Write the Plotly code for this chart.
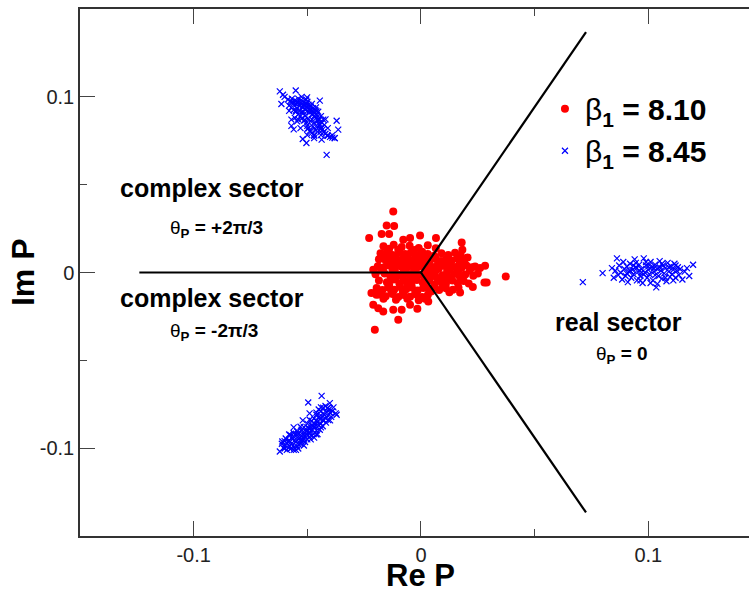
import plotly.graph_objects as go

# ---- data ----
red_points = [
    # core
    (-0.0165,0.0150),(-0.0120,0.0158),(-0.0085,0.0145),(-0.0050,0.0152),(-0.0010,0.0140),(0.0030,0.0155),
    (-0.0140,0.0135),(-0.0100,0.0130),(-0.0030,0.0128),(0.0065,0.0138),
    (-0.0178,0.0110),(-0.0150,0.0118),(-0.0125,0.0100),(-0.0095,0.0115),(-0.0070,0.0105),(-0.0045,0.0112),
    (-0.0020,0.0098),(0.0005,0.0118),(0.0030,0.0105),(0.0058,0.0095),(0.0090,0.0110),(0.0120,0.0100),
    (-0.0160,0.0092),(-0.0110,0.0088),(-0.0060,0.0092),(-0.0005,0.0090),(0.0150,0.0112),(0.0175,0.0098),
    (-0.0185,0.0075),(-0.0155,0.0068),(-0.0130,0.0080),(-0.0105,0.0070),(-0.0080,0.0078),(-0.0055,0.0065),
    (-0.0030,0.0075),(-0.0008,0.0062),(0.0015,0.0080),(0.0040,0.0070),(0.0065,0.0078),(0.0088,0.0065),
    (0.0110,0.0075),(0.0135,0.0068),(0.0160,0.0080),(0.0190,0.0065),(0.0205,0.0085),(-0.0140,0.0055),
    (-0.0090,0.0052),(-0.0040,0.0050),(0.0025,0.0055),(0.0075,0.0050),(0.0125,0.0052),(0.0170,0.0055),
    (-0.0190,0.0035),(-0.0165,0.0028),(-0.0140,0.0040),(-0.0115,0.0025),(-0.0090,0.0035),(-0.0068,0.0020),
    (-0.0045,0.0038),(-0.0020,0.0025),(0.0005,0.0035),(0.0030,0.0018),(0.0052,0.0032),(0.0078,0.0022),
    (0.0100,0.0038),(0.0125,0.0020),(0.0150,0.0032),(0.0178,0.0025),(0.0200,0.0040),(0.0225,0.0030),
    (-0.0175,0.0012),(-0.0125,0.0010),(-0.0075,0.0008),(-0.0030,0.0012),(0.0020,0.0005),(0.0065,0.0010),
    (0.0115,0.0008),(0.0165,0.0012),(0.0215,0.0010),
    (-0.0200,-0.0010),(-0.0160,-0.0005),(-0.0135,-0.0020),(-0.0105,-0.0008),(-0.0080,-0.0025),(-0.0055,-0.0010),
    (-0.0030,-0.0028),(-0.0005,-0.0012),(0.0022,-0.0022),(0.0045,-0.0005),(0.0070,-0.0030),(0.0095,-0.0015),
    (0.0120,-0.0028),(0.0145,-0.0008),(0.0170,-0.0022),(0.0195,-0.0012),(0.0230,-0.0018),(0.0250,-0.0005),
    (-0.0185,-0.0045),(-0.0150,-0.0055),(-0.0120,-0.0040),(-0.0095,-0.0062),(-0.0070,-0.0048),(-0.0042,-0.0065),
    (-0.0018,-0.0042),(0.0008,-0.0058),(0.0035,-0.0045),(0.0060,-0.0068),(0.0085,-0.0050),(0.0110,-0.0062),
    (0.0138,-0.0045),(0.0162,-0.0060),(0.0188,-0.0048),(0.0210,-0.0062),(-0.0140,-0.0070),(-0.0060,-0.0072),
    (0.0020,-0.0070),(0.0095,-0.0075),
    (-0.0195,-0.0088),(-0.0170,-0.0100),(-0.0145,-0.0085),(-0.0118,-0.0098),(-0.0092,-0.0082),(-0.0065,-0.0095),
    (-0.0040,-0.0085),(-0.0015,-0.0102),(0.0010,-0.0088),(0.0035,-0.0098),(0.0058,-0.0085),(0.0080,-0.0100),
    (0.0110,-0.0090),(0.0140,-0.0098),(0.0165,-0.0085),(-0.0130,-0.0108),(-0.0080,-0.0110),(-0.0025,-0.0112),
    (0.0045,-0.0108),
    (-0.0185,-0.0125),(-0.0155,-0.0135),(-0.0125,-0.0122),(-0.0100,-0.0140),(-0.0075,-0.0128),(-0.0048,-0.0138),
    (-0.0020,-0.0125),(0.0005,-0.0140),(0.0030,-0.0128),(-0.0165,-0.0150),(-0.0110,-0.0155),(-0.0060,-0.0150),
    (-0.0010,-0.0158),(0.0018,-0.0150),
    (-0.0060,0.0030),(-0.0035,-0.0005),(0.0012,0.0048),(0.0040,-0.0032),(-0.0100,0.0045),(-0.0025,0.0060),
    (0.0080,0.0040),(0.0055,0.0015),(-0.0045,-0.0050),(0.0015,-0.0035),(-0.0110,-0.0030),(0.0105,-0.0040),
    (-0.0070,0.0060),(0.0030,0.0090),(-0.0150,0.0100),(-0.0120,0.0060),
    # outliers
    (-0.0122,0.0347),(-0.0151,0.0268),(-0.0118,0.0264),(-0.0228,0.0196),(-0.0173,0.0219),(-0.0140,0.0219),
    (0.0066,0.0196),(-0.0004,0.0211),(-0.0048,0.0196),(-0.0078,0.0186),(0.0179,0.0171),(0.0182,0.0129),
    (0.0373,-0.0023),(0.0282,0.0038),(0.0260,0.0025),(0.0279,-0.0057),(0.0289,-0.0057),(0.0228,-0.0083),
    (0.0172,-0.0114),(0.0125,-0.0112),(-0.0203,-0.0326),(-0.0100,-0.0269),(-0.0016,-0.0207),
    (-0.0210,-0.0184),(-0.0188,-0.0203),(-0.0166,-0.0222),(-0.0122,-0.0212),(-0.0085,-0.0212),
    (-0.0218,-0.0117),(-0.0196,-0.0127),(-0.0181,-0.0108),(-0.0048,-0.0184),(0.0032,-0.0165),
    (0.0238,0.0034),(-0.0210,0.0015),
]

blue_points_upper = [
    (-0.0600,0.1000),(-0.0585,0.0985),(-0.0575,0.0975),(-0.0568,0.0990),(-0.0560,0.0965),(-0.0555,0.0980),
    (-0.0548,0.0958),(-0.0545,0.0972),(-0.0540,0.0990),(-0.0535,0.0950),(-0.0530,0.0965),(-0.0528,0.0980),
    (-0.0522,0.0940),(-0.0518,0.0955),(-0.0515,0.0970),(-0.0510,0.0930),(-0.0508,0.0948),(-0.0505,0.0962),
    (-0.0500,0.0920),(-0.0498,0.0938),(-0.0495,0.0955),(-0.0490,0.0910),(-0.0488,0.0928),(-0.0485,0.0945),
    (-0.0480,0.0900),(-0.0478,0.0918),(-0.0475,0.0935),(-0.0470,0.0890),(-0.0468,0.0908),(-0.0465,0.0925),
    (-0.0460,0.0880),(-0.0458,0.0898),(-0.0455,0.0865),(-0.0450,0.0850),(-0.0448,0.0875),(-0.0445,0.0838),
    (-0.0440,0.0825),(-0.0438,0.0855),(-0.0432,0.0815),(-0.0428,0.0800),(-0.0420,0.0790),(-0.0412,0.0780),
    (-0.0400,0.0772),(-0.0390,0.0768),(-0.0380,0.0765),
    (-0.0580,0.0950),(-0.0570,0.0940),(-0.0560,0.0925),(-0.0550,0.0915),(-0.0540,0.0900),(-0.0530,0.0890),
    (-0.0525,0.0875),(-0.0515,0.0865),(-0.0505,0.0850),(-0.0500,0.0835),(-0.0495,0.0820),(-0.0490,0.0805),
    (-0.0480,0.0795),(-0.0470,0.0785),(-0.0462,0.0810),(-0.0475,0.0830),(-0.0485,0.0860),(-0.0520,0.0910),
    (-0.0545,0.0935),(-0.0535,0.0920),(-0.0510,0.0890),(-0.0495,0.0875),(-0.0470,0.0850),(-0.0455,0.0830),
    (-0.0442,0.0800),(-0.0525,0.1000),(-0.0505,0.0985),(-0.0480,0.0960),(-0.0462,0.0940),(-0.0452,0.0915),
    (-0.0440,0.0890),(-0.0430,0.0870),(-0.0425,0.0840),
    (-0.0570,0.0835),(-0.0560,0.0815),(-0.0545,0.0860),(-0.0555,0.0880),
    (-0.0570,0.0970),(-0.0540,0.0968),(-0.0500,0.0972),
    (-0.0580,0.0920),(-0.0550,0.0922),(-0.0520,0.0918),(-0.0490,0.0922),(-0.0460,0.0918),
    (-0.0570,0.0870),(-0.0540,0.0872),(-0.0510,0.0868),(-0.0480,0.0872),(-0.0450,0.0868),(-0.0420,0.0872),
    (-0.0530,0.0822),(-0.0500,0.0818),(-0.0470,0.0822),(-0.0440,0.0818),(-0.0410,0.0822),
    (-0.0500,0.0782),(-0.0470,0.0778),(-0.0440,0.0782),(-0.0410,0.0778),(-0.0390,0.0782),
    (-0.0621,0.1031),(-0.0607,0.1012),(-0.0614,0.0959),(-0.0551,0.1036),(-0.0501,0.0997),(-0.0445,0.0978),
    (-0.0371,0.0864),(-0.0364,0.0813),(-0.0415,0.0670),(-0.0437,0.0756),(-0.0504,0.0737),(-0.0379,0.0765),
    (-0.0520,0.0760),(-0.0470,0.0765),
]

blue_points_lower = [
    (-0.0621,-0.1019),(-0.0605,-0.1000),(-0.0598,-0.0985),(-0.0590,-0.0970),(-0.0595,-0.0945),(-0.0580,-0.0955),
    (-0.0578,-0.0990),(-0.0570,-0.0975),(-0.0565,-0.0950),(-0.0560,-0.0935),(-0.0558,-0.0995),(-0.0550,-0.0965),
    (-0.0545,-0.0940),(-0.0540,-0.0920),(-0.0538,-0.0980),(-0.0530,-0.0955),(-0.0525,-0.0930),(-0.0520,-0.0910),
    (-0.0515,-0.0945),(-0.0510,-0.0965),(-0.0505,-0.0920),(-0.0500,-0.0900),(-0.0495,-0.0885),(-0.0490,-0.0935),
    (-0.0488,-0.0910),(-0.0482,-0.0870),(-0.0478,-0.0895),(-0.0472,-0.0920),(-0.0468,-0.0860),(-0.0465,-0.0880),
    (-0.0460,-0.0900),(-0.0455,-0.0850),(-0.0450,-0.0870),(-0.0445,-0.0835),(-0.0440,-0.0860),(-0.0435,-0.0820),
    (-0.0430,-0.0845),(-0.0425,-0.0810),(-0.0420,-0.0830),(-0.0415,-0.0795),(-0.0410,-0.0815),(-0.0405,-0.0780),
    (-0.0400,-0.0800),(-0.0395,-0.0822),(-0.0390,-0.0790),(-0.0371,-0.0810),(-0.0437,-0.0702),(-0.0496,-0.0740),
    (-0.0401,-0.0744),(-0.0420,-0.0760),(-0.0450,-0.0780),(-0.0460,-0.0810),(-0.0470,-0.0830),(-0.0480,-0.0845),
    (-0.0500,-0.0860),(-0.0515,-0.0880),(-0.0525,-0.0895),(-0.0545,-0.0905),(-0.0560,-0.0915),(-0.0575,-0.0925),
    (-0.0590,-0.1010),(-0.0575,-0.1005),(-0.0560,-0.1010),(-0.0545,-0.0990),(-0.0530,-0.0975),(-0.0515,-0.0985),
    (-0.0500,-0.0950),(-0.0485,-0.0950),(-0.0470,-0.0940),(-0.0455,-0.0920),(-0.0445,-0.0895),(-0.0432,-0.0875),
    (-0.0418,-0.0855),(-0.0408,-0.0840),(-0.0440,-0.0790),(-0.0430,-0.0770),(-0.0412,-0.0772),(-0.0520,-0.0950),
    (-0.0535,-0.0940),(-0.0505,-0.0905),(-0.0490,-0.0890),(-0.0475,-0.0875),(-0.0462,-0.0845),(-0.0448,-0.0820),
    (-0.0510,-0.0930),(-0.0585,-0.0965),(-0.0600,-0.0960),(-0.0612,-0.0975),(-0.0550,-0.1010),
    (-0.0600,-0.1002),(-0.0570,-0.0998),(-0.0540,-0.1002),
    (-0.0610,-0.0962),(-0.0580,-0.0958),(-0.0550,-0.0962),(-0.0520,-0.0958),
    (-0.0580,-0.0922),(-0.0550,-0.0918),(-0.0520,-0.0922),(-0.0490,-0.0918),(-0.0460,-0.0922),
    (-0.0560,-0.0882),(-0.0530,-0.0878),(-0.0500,-0.0882),(-0.0470,-0.0878),(-0.0440,-0.0882),
    (-0.0520,-0.0842),(-0.0490,-0.0838),(-0.0460,-0.0842),(-0.0430,-0.0838),(-0.0400,-0.0842),
    (-0.0490,-0.0802),(-0.0460,-0.0798),(-0.0430,-0.0802),(-0.0400,-0.0798),(-0.0375,-0.0802),
    (-0.0440,-0.0768),(-0.0410,-0.0772),(-0.0385,-0.0768),
]

blue_points_real = [
    (0.0712,-0.0055),(0.0799,-0.0004),(0.0840,0.0025),(0.0848,-0.0030),(0.0855,0.0010),(0.0862,0.0080),
    (0.0868,-0.0015),(0.0872,0.0040),(0.0878,0.0000),(0.0885,-0.0040),(0.0890,0.0060),(0.0895,0.0020),
    (0.0900,-0.0020),(0.0905,0.0035),(0.0910,-0.0055),(0.0915,0.0005),(0.0920,0.0050),(0.0925,-0.0030),
    (0.0930,0.0015),(0.0935,-0.0010),(0.0940,0.0075),(0.0945,0.0030),(0.0950,-0.0045),(0.0955,0.0005),
    (0.0960,0.0045),(0.0965,-0.0020),(0.0970,0.0020),(0.0975,-0.0060),(0.0980,0.0080),(0.0985,0.0000),
    (0.0990,0.0040),(0.0995,-0.0030),(0.1000,0.0015),(0.1005,-0.0010),(0.1010,0.0060),(0.1015,0.0030),
    (0.1020,-0.0045),(0.1025,0.0005),(0.1030,0.0045),(0.1035,-0.0085),(0.1040,0.0020),(0.1045,-0.0020),
    (0.1050,0.0065),(0.1055,0.0010),(0.1060,-0.0035),(0.1065,0.0040),(0.1070,-0.0005),(0.1075,0.0025),
    (0.1080,-0.0050),(0.1085,0.0055),(0.1090,0.0005),(0.1095,-0.0025),(0.1100,0.0035),(0.1105,-0.0010),
    (0.1110,0.0015),(0.1115,0.0050),(0.1120,-0.0030),(0.1125,0.0010),(0.1130,0.0030),(0.1135,-0.0015),
    (0.1140,0.0020),(0.1150,-0.0040),(0.1160,0.0005),(0.1170,0.0025),(0.1180,-0.0020),(0.1197,0.0044),
    (0.0920,0.0010),(0.0950,0.0025),(0.0980,-0.0012),(0.1000,0.0035),(0.1030,-0.0015),(0.1050,0.0030),
    (0.1010,-0.0060),(0.0965,-0.0045),(0.0945,0.0055),(0.1060,0.0050),(0.1090,0.0030),(0.1110,-0.0045),
    (0.0990,0.0060),(0.1040,-0.0065),(0.0935,0.0040),(0.1075,-0.0030),(0.1120,0.0040),(0.0905,-0.0005),
    (0.1025,0.0025),(0.0970,0.0000),
]

# sector boundary segments (Re, Im) with gaps
boundary_re = [-0.1239, 0.0, None, 0.0, 0.0726, None, 0.0, 0.0726]
boundary_im = [0.0, 0.0, None, 0.0, 0.1368, None, 0.0, -0.1366]

legend_labels = ["β<b><sub>1</sub> = 8.10</b>", "β<b><sub>1</sub> = 8.45</b>"]
x_ticks = [-0.1, 0.0, 0.1]
x_tick_text = ["-0.1", "0", "0.1"]
y_ticks = [-0.1, 0.0, 0.1]
y_tick_text = ["-0.1", "0", "0.1"]
x_title = "<b>Re P</b>"
y_title = "<b>Im P</b>"

FONT = "Liberation Sans, Arial, Helvetica, sans-serif"

blue_all = blue_points_upper + blue_points_lower + blue_points_real

fig = go.Figure()
fig.add_trace(go.Scatter(
    x=[p[0] for p in red_points], y=[p[1] for p in red_points],
    mode="markers", name=legend_labels[0], legendgroup="a",
    marker=dict(symbol="circle", size=8, color="#ff0000", line=dict(width=0)),
))
fig.add_trace(go.Scatter(
    x=[p[0] for p in blue_all], y=[p[1] for p in blue_all],
    mode="markers", name=legend_labels[1], legendgroup="b",
    marker=dict(symbol="x-thin", size=6, color="#0000ff", line=dict(width=1.2, color="#0000ff")),
))
fig.add_trace(go.Scatter(
    x=boundary_re, y=boundary_im, mode="lines", showlegend=False,
    line=dict(color="black", width=2.2), connectgaps=False,
))

annots = [
    dict(x=0.1973, y=0.660, text="<b>complex sector</b>", size=25),
    dict(x=0.2033, y=0.5825, text="θ<b><sub>P</sub> = +2π/3</b>", size=19),
    dict(x=0.1973, y=0.4516, text="<b>complex sector</b>", size=25),
    dict(x=0.1996, y=0.387, text="θ<b><sub>P</sub> = -2π/3</b>", size=19),
    dict(x=0.8045, y=0.4066, text="<b>real sector</b>", size=25),
    dict(x=0.810, y=0.3435, text="θ<b><sub>P</sub> = 0</b>", size=19),
]
for a in annots:
    fig.add_annotation(x=a["x"], y=a["y"], xref="paper", yref="paper", text=a["text"],
                       showarrow=False, font=dict(family=FONT, size=a["size"], color="black"),
                       xanchor="center", yanchor="middle")

# axis titles
fig.add_annotation(x=0.5097, y=-0.0749, xref="paper", yref="paper", text=x_title, showarrow=False,
                   font=dict(family=FONT, size=31, color="black"), xanchor="center", yanchor="middle",
                   borderpad=0)
fig.add_annotation(x=-0.0850, y=0.501, xref="paper", yref="paper", text=y_title, showarrow=False,
                   textangle=-90, font=dict(family=FONT, size=32, color="black"),
                   xanchor="center", yanchor="middle")

axis_common = dict(
    showgrid=False, zeroline=False, showline=True, linecolor="#333333", linewidth=1.5,
    ticks="inside", ticklen=15, tickwidth=1.3, tickcolor="#444444",
    tickfont=dict(family=FONT, size=20, color="#222222"),
    minor=dict(ticks="inside", ticklen=7, tickwidth=1.3, tickcolor="#444444", dtick=0.05, showgrid=False),
)

fig.update_layout(
    width=749, height=592,
    margin=dict(l=80, r=0, t=9, b=56),
    plot_bgcolor="white", paper_bgcolor="white",
    font=dict(family=FONT, color="black"),
    xaxis=dict(range=[-0.15, 0.1443], tickvals=x_ticks, ticktext=x_tick_text, mirror="ticks",
               **axis_common),
    yaxis=dict(range=[-0.15, 0.15], tickvals=y_ticks, ticktext=y_tick_text, mirror=False,
               **axis_common),
    legend=dict(x=0.695, y=0.86, xanchor="left", yanchor="top", bgcolor="rgba(0,0,0,0)",
                font=dict(family=FONT, size=30, color="black"), tracegroupgap=0,
                itemsizing="trace"),
    showlegend=True,
)

fig.write_html("out.html")
